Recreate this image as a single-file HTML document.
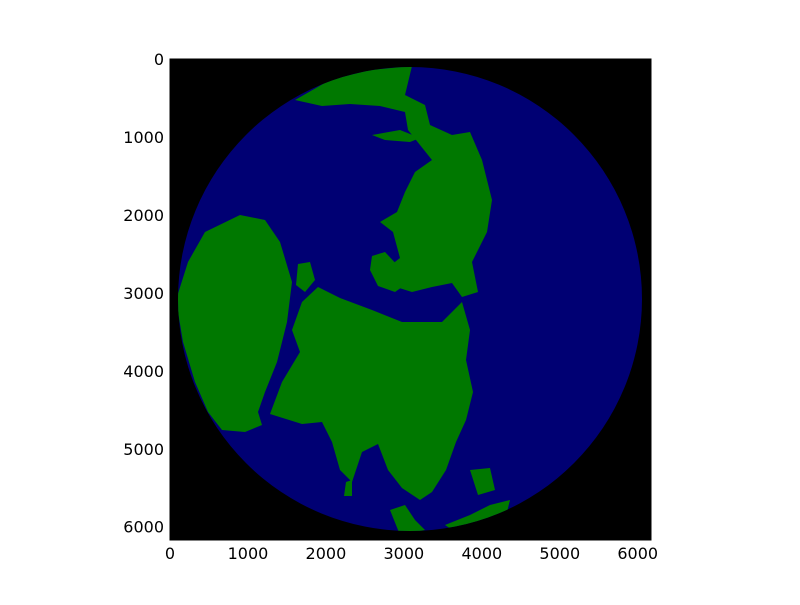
<!DOCTYPE html>
<html><head><meta charset="utf-8"><style>
body{margin:0;background:#fff;width:800px;height:600px;overflow:hidden}
svg text{font-family:"DejaVu Sans","Liberation Sans",sans-serif;font-size:16px;fill:#000}
</style></head><body>
<svg id="c" width="800" height="600">
<defs><clipPath id="globe"><circle id="gc" cx="410" cy="299" r="232"/></clipPath></defs>
<rect x="170" y="59" width="481" height="481" fill="#000"/>
<circle cx="410" cy="299" r="232" fill="#000073"/>
<g id="land" clip-path="url(#globe)" fill="#007800"></g>
<rect x="170" y="59" width="481" height="481" fill="none" stroke="#000" stroke-width="1"/>
<g id="ticks"></g>
</svg>
<script>
const xTicks=[0,1000,2000,3000,4000,5000,6000];
const yTicks=[0,1000,2000,3000,4000,5000,6000];
const extent=6170;
const X0=170,Y0=59,W=481;
function sx(v){return X0+v/extent*W;}
function sy(v){return Y0+v/extent*W;}
const lands=[
"295,100 330,80 370,70 412,66 405,95 425,105 430,125 452,135 470,132 482,160 492,200 487,232 472,262 478,292 462,297 452,283 432,287 412,292 396,287 382,272 400,258 393,232 380,222 397,212 405,192 415,172 432,160 420,145 408,130 405,112 380,106 350,104 322,106",
"205,232 240,215 265,220 280,242 292,282 287,322 277,362 265,392 258,412 262,425 245,432 222,430 208,412 195,382 183,342 176,300 188,262",
"302,302 318,287 340,298 372,310 402,322 442,322 462,302 470,330 466,360 473,392 466,420 456,442 446,470 432,492 420,500 402,488 388,470 378,444 362,452 352,482 340,470 332,442 322,422 302,424 270,414 282,382 300,352 292,330",
"372,256 385,252 400,268 405,285 395,292 378,286 370,270",
"298,264 310,262 315,280 305,292 296,285",
"390,510 405,505 415,520 425,530 400,535",
"445,525 470,515 490,505 510,500 505,520 460,535",
"470,470 490,468 495,490 478,495",
"346,482 352,480 352,496 344,496",
"372,135 400,130 420,138 410,142 385,140"
];
const g=document.getElementById('land');
lands.forEach((p,i)=>{const e=document.createElementNS('http://www.w3.org/2000/svg','polygon');e.setAttribute('points',p);


g.appendChild(e);});
const t=document.getElementById('ticks');
function add(tag,attrs,txt){const e=document.createElementNS('http://www.w3.org/2000/svg',tag);for(const k in attrs)e.setAttribute(k,attrs[k]);if(txt!==undefined)e.textContent=txt;t.appendChild(e);return e;}
xTicks.forEach(v=>{const x=sx(v);
const l=add('line',{x1:x,x2:x,y1:540,y2:536,stroke:'#000'});


const l2=add('line',{x1:x,x2:x,y1:59,y2:63,stroke:'#000'});


const s=add('text',{x:x,y:559,'text-anchor':'middle'},v);

});
yTicks.forEach(v=>{const y=sy(v);
const l=add('line',{x1:170,x2:174,y1:y,y2:y,stroke:'#000'});


const l2=add('line',{x1:651,x2:647,y1:y,y2:y,stroke:'#000'});


const s=add('text',{x:164,y:y+6,'text-anchor':'end'},v);

});
</script>
</body></html>
